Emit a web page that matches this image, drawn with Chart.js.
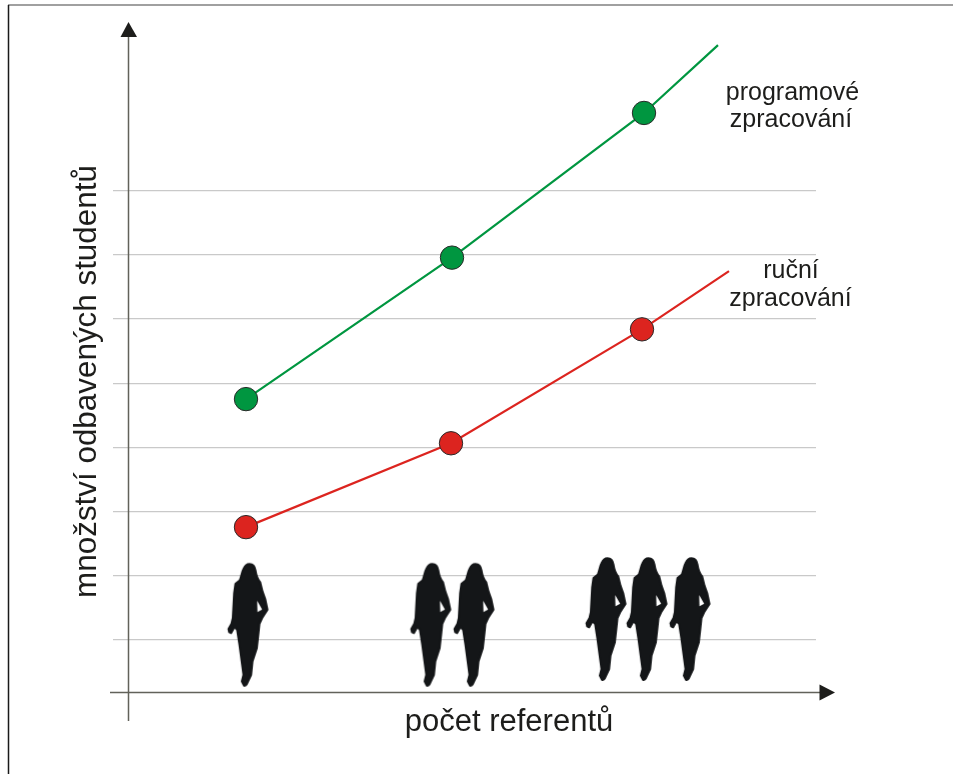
<!DOCTYPE html>
<html lang="cs">
<head>
<meta charset="utf-8">
<title>Odbavení studentů</title>
<style>
html,body{margin:0;padding:0;background:#fff;overflow:hidden}
#wrap{position:relative;width:953px;height:774px}
</style>
<script src="https://cdn.jsdelivr.net/npm/chart.js@4"></script>
</head>
<body>
<div id="wrap"><canvas id="c" width="953" height="774"></canvas></div>
<script>
// x = number of clerks (referents), y = gridline units of the unnumbered axis
const programX = [1, 2.03, 2.99, 3.36];
const programY = [4.75, 6.96, 9.22, 10.28];
const rucniX = [1, 2.025, 2.98, 3.415];
const rucniY = [2.75, 4.06, 5.84, 6.75];
const womenX = [1.014, 1.928, 2.144, 2.804, 3.009, 3.224];
const womenY = [1.21, 1.21, 1.21, 1.30, 1.30, 1.30];
const gridValues = [1, 2, 3, 4, 5, 6, 7, 8];
const xTitle = 'počet referentů';
const yTitle = 'množství odbavených studentů';
const programLabel = ['programové', 'zpracování'];
const rucniLabel = ['ruční', 'zpracování'];

const INK = '#1d1d1b';
const FONT = '"Liberation Sans", Arial, sans-serif';

function makeWoman() {
  const cv = document.createElement('canvas');
  cv.width = 46; cv.height = 128;
  const g = cv.getContext('2d');
  const p = new Path2D(
    'M148 43 C158 43 164 50 166 62 C168 76 172 88 180 97 L187 125 L195 147 L202 180 ' +
    'L186 205 L178 222 L175 250 L170 295 L157 335 L153 375 L140 403 ' +
    'C136 408 132 409 131 407 L125 395 L130 375 L126 345 L118 285 L111 240 L103 232 ' +
    'L93 250 L87 247 L85 238 L94 222 L98 205 L102 130 L106 102 L119 92 ' +
    'C124 78 126 64 130 58 C134 48 141 43 148 43 Z');
  const notch = new Path2D('M171 153 L186 179 L172 187 Z');
  g.translate(2, 2);
  g.scale(1 / 3, 1 / 3);
  g.translate(-83, -42);
  g.fillStyle = '#141618';
  g.strokeStyle = '#141618';
  g.lineWidth = 6;
  g.lineJoin = 'round';
  g.fill(p);
  g.stroke(p);
  g.globalCompositeOperation = 'destination-out';
  g.fill(notch);
  return cv;
}

function toXY(xs, ys) { return xs.map((x, i) => ({ x, y: ys[i] })); }

const drawings = {
  id: 'drawings',
  beforeDraw(chart) {
    const { ctx, width } = chart;
    ctx.save();
    ctx.fillStyle = '#fff';
    ctx.fillRect(0, 0, chart.width, chart.height);
    ctx.lineWidth = 1.5;
    ctx.strokeStyle = '#808080';
    ctx.beginPath(); ctx.moveTo(8, 5); ctx.lineTo(width, 5); ctx.stroke();
    ctx.strokeStyle = '#1a1a1a';
    ctx.beginPath(); ctx.moveTo(8.5, 5); ctx.lineTo(8.5, 774); ctx.stroke();
    ctx.restore();
  },
  afterDraw(chart) {
    const { ctx } = chart;
    ctx.save();
    // axes with arrowheads
    ctx.strokeStyle = '#62625a';
    ctx.lineWidth = 1.5;
    ctx.beginPath(); ctx.moveTo(128.5, 36); ctx.lineTo(128.5, 721); ctx.stroke();
    ctx.beginPath(); ctx.moveTo(110, 692.5); ctx.lineTo(821, 692.5); ctx.stroke();
    ctx.fillStyle = INK;
    ctx.beginPath(); ctx.moveTo(128.5, 22); ctx.lineTo(137, 37); ctx.lineTo(120.5, 37); ctx.closePath(); ctx.fill();
    ctx.beginPath(); ctx.moveTo(835, 692.5); ctx.lineTo(819.5, 684.5); ctx.lineTo(819.5, 700.5); ctx.closePath(); ctx.fill();
    // texts
    ctx.textAlign = 'center';
    ctx.textBaseline = 'alphabetic';
    ctx.font = '31px ' + FONT;
    ctx.fillText(xTitle, 509, 731);
    ctx.save();
    ctx.translate(96, 381.5);
    ctx.rotate(-Math.PI / 2);
    ctx.font = '31.4px ' + FONT;
    ctx.fillText(yTitle, 0, 0);
    ctx.restore();
    ctx.font = '25px ' + FONT;
    ctx.fillText(programLabel[0], 792.5, 99.5);
    ctx.fillText(programLabel[1], 791, 126.5);
    ctx.fillText(rucniLabel[0], 791, 278);
    ctx.fillText(rucniLabel[1], 790.5, 306);
    ctx.restore();
  }
};

const woman = makeWoman();

new Chart(document.getElementById('c'), {
  type: 'scatter',
  data: {
    datasets: [
      {
        label: 'programové zpracování',
        data: toXY(programX, programY),
        showLine: true,
        borderColor: '#009640',
        backgroundColor: '#009640',
        borderWidth: 2.2,
        pointBorderColor: '#2a2a2a',
        pointBorderWidth: 1,
        pointRadius: ctx => (ctx.dataIndex < 3 ? 11.7 : 0),
        order: 1
      },
      {
        label: 'ruční zpracování',
        data: toXY(rucniX, rucniY),
        showLine: true,
        borderColor: '#dc241f',
        backgroundColor: '#dc241f',
        borderWidth: 2.2,
        pointBorderColor: '#2a2a2a',
        pointBorderWidth: 1,
        pointRadius: ctx => (ctx.dataIndex < 3 ? 11.7 : 0),
        order: 1
      },
      {
        label: 'referenti',
        data: toXY(womenX, womenY),
        showLine: false,
        pointStyle: woman,
        pointRadius: 20,
        order: 2
      }
    ]
  },
  options: {
    responsive: false,
    animation: false,
    events: [],
    layout: { padding: { left: 113, right: 137, top: 31, bottom: 42 } },
    plugins: { legend: { display: false }, tooltip: { enabled: false }, title: { display: false } },
    scales: {
      x: {
        type: 'linear',
        min: 0.335,
        max: 3.85,
        border: { display: false },
        grid: { display: false, drawTicks: false },
        ticks: { display: false }
      },
      y: {
        type: 'linear',
        min: -0.45,
        max: 10.5,
        border: { display: false },
        afterBuildTicks(scale) { scale.ticks = gridValues.map(value => ({ value })); },
        grid: { color: '#c9c9c9', lineWidth: 1.2, drawTicks: false },
        ticks: { display: false }
      }
    }
  },
  plugins: [drawings]
});
</script>
</body>
</html>
